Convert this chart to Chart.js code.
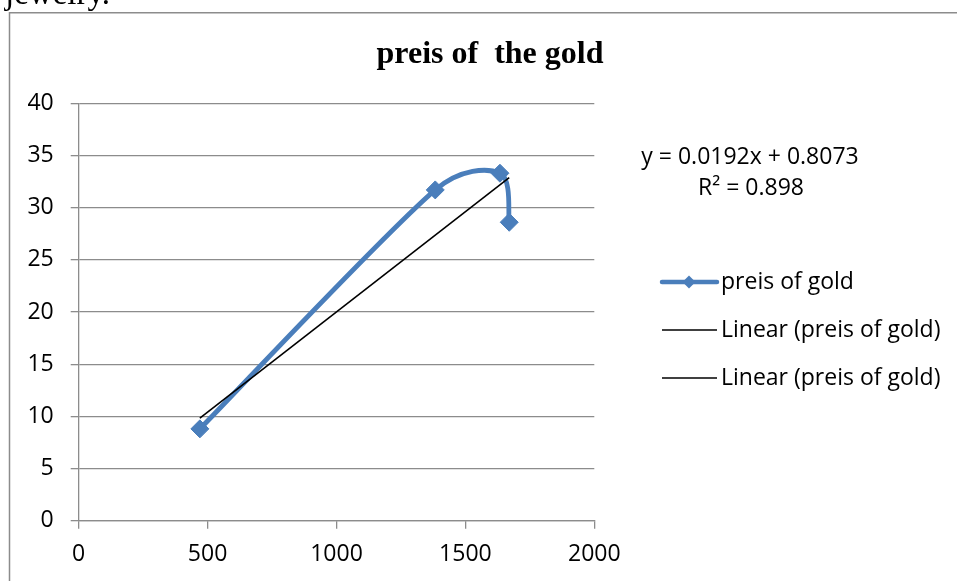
<!DOCTYPE html>
<html>
<head>
<meta charset="utf-8">
<script src="https://cdn.jsdelivr.net/npm/chart.js@4.4.1/dist/chart.umd.min.js"></script>
<style>
  html, body { margin: 0; padding: 0; background: #fff; }
  #wrap { position: relative; width: 957px; height: 581px; overflow: hidden; }
  canvas { display: block; }
</style>
</head>
<body>
<div id="wrap"><canvas id="c" width="957" height="581"></canvas></div>
<script>
// ---- data ----
const chartTitle = "preis of  the gold";
const seriesName = "preis of gold";
const trendNames = ["Linear (preis of gold)", "Linear (preis of gold)"];
const goldX = [470, 1383, 1634, 1670];
const goldY = [8.8, 31.7, 33.3, 28.6];
const trendSlope = 0.0192;
const trendIntercept = 0.8073;
const trendEquation = "y = 0.0192x + 0.8073";
const trendR2 = "R² = 0.898";
const xTicks = [0, 500, 1000, 1500, 2000];
const yTicks = [0, 5, 10, 15, 20, 25, 30, 35, 40];
const pageText = "jewelry.";

const goldPoints = goldX.map((x, i) => ({ x: x, y: goldY[i] }));
const xMin = Math.min(...goldX), xMax = Math.max(...goldX);
const trendPoints = [xMin, xMax].map(x => ({ x: x, y: trendSlope * x + trendIntercept }));

const BLUE = '#4a7ebb';
const GRID = '#8c8c8c';
const FONTFAM = "'Open Sans', sans-serif";
const TICKFONT = { family: FONTFAM, size: 23 };

// Office-style smoothing: Catmull-Rom control arms (1/6 of neighbour span),
// capped at half of the adjacent segment; applied to the library's own point elements.
const officeSmooth = {
  id: 'officeSmooth',
  beforeDatasetDraw(chart, args) {
    const meta = args.meta;
    if (meta.type !== 'scatter' || !meta.dataset || meta.index !== 1) return;
    meta.dataset.updateControlPoints(chart.chartArea, meta.iScale.axis);
    const p = meta.data;
    const n = p.length;
    const dist = (a, b) => Math.hypot(b.x - a.x, b.y - a.y);
    for (let i = 0; i < n; i++) {
      const prev = p[Math.max(i - 1, 0)], next = p[Math.min(i + 1, n - 1)], cur = p[i];
      let dx = (next.x - prev.x) / 6, dy = (next.y - prev.y) / 6;
      const arm = Math.hypot(dx, dy) || 1;
      const backLen = i > 0 ? Math.min(arm, dist(prev, cur) / 2) : 0;
      const fwdLen = i < n - 1 ? Math.min(arm, dist(cur, next) / 2) : 0;
      const ux = dx / arm, uy = dy / arm;
      cur.cp1x = cur.x - ux * backLen; cur.cp1y = cur.y - uy * backLen;
      cur.cp2x = cur.x + ux * fwdLen; cur.cp2y = cur.y + uy * fwdLen;
    }
  }
};

const extras = {
  id: 'extras',
  afterDraw(chart) {
    const ctx = chart.ctx;
    ctx.save();
    ctx.strokeStyle = GRID;
    ctx.lineWidth = 1.5;
    ctx.beginPath();
    ctx.moveTo(9.5, 581); ctx.lineTo(9.5, 12.7); ctx.lineTo(957, 12.7);
    ctx.stroke();
    ctx.fillStyle = '#000';
    ctx.font = "33px 'Liberation Serif', serif";
    ctx.textBaseline = 'alphabetic';
    ctx.textAlign = 'left';
    ctx.fillText(pageText, 5, 4);
    ctx.font = "bold 32px 'Liberation Serif', serif";
    ctx.textAlign = 'center';
    ctx.fillText(chartTitle, 490, 63);
    ctx.font = "23px " + FONTFAM;
    ctx.textBaseline = 'middle';
    ctx.fillText(trendEquation, 750, 157);
    ctx.fillText(trendR2, 751, 188);
    ctx.textAlign = 'left';
    const lx0 = 662, lx1 = 717, tx = 721;
    const rows = [282, 330, 378];
    ctx.strokeStyle = BLUE; ctx.lineWidth = 4.5; ctx.lineCap = 'round';
    ctx.beginPath(); ctx.moveTo(lx0, rows[0]); ctx.lineTo(lx1, rows[0]); ctx.stroke();
    ctx.fillStyle = BLUE;
    ctx.beginPath();
    const cx = (lx0 + lx1) / 2 - 0.5, r = 6.5;
    ctx.moveTo(cx - r, rows[0]); ctx.lineTo(cx, rows[0] - r); ctx.lineTo(cx + r, rows[0]); ctx.lineTo(cx, rows[0] + r); ctx.closePath();
    ctx.fill();
    ctx.fillStyle = '#000';
    ctx.fillText(seriesName, tx, rows[0]);
    ctx.strokeStyle = '#000'; ctx.lineWidth = 1.5; ctx.lineCap = 'butt';
    trendNames.forEach((n, i) => {
      const y = rows[i + 1];
      ctx.beginPath(); ctx.moveTo(lx0, y); ctx.lineTo(lx1, y); ctx.stroke();
      ctx.fillText(n, tx, y);
    });
    ctx.restore();
  }
};

new Chart(document.getElementById('c'), {
  type: 'scatter',
  data: {
    datasets: [
      {
        label: trendNames[0],
        data: trendPoints,
        showLine: true,
        borderColor: '#000',
        borderWidth: 1.6,
        pointRadius: 0,
        tension: 0,
        order: 0
      },
      {
        label: seriesName,
        data: goldPoints,
        showLine: true,
        borderColor: BLUE,
        backgroundColor: BLUE,
        borderWidth: 4.8,
        tension: 0.4,
        borderCapStyle: 'round',
        borderJoinStyle: 'round',
        pointStyle: 'rectRot',
        pointRadius: 9,
        pointBorderWidth: 1,
        pointBackgroundColor: BLUE,
        pointBorderColor: BLUE,
        order: 1
      }
    ]
  },
  options: {
    responsive: false,
    animation: false,
    layout: { padding: { left: 0, top: 103.3, right: 362.7, bottom: 0 } },
    plugins: { legend: { display: false }, title: { display: false }, tooltip: { enabled: false } },
    scales: {
      x: {
        type: 'linear',
        min: 0, max: 2000,
        afterBuildTicks: s => { s.ticks = xTicks.map(v => ({ value: v })); },
        afterFit: s => { s.height = 60.3; },
        grid: { drawOnChartArea: false, drawTicks: true, tickLength: 8, color: GRID, lineWidth: 1.3 },
        border: { color: GRID, width: 1.3 },
        ticks: { color: '#000', font: TICKFONT, padding: 12, maxRotation: 0, callback: v => String(v) }
      },
      y: {
        type: 'linear',
        min: 0, max: 40,
        afterBuildTicks: s => { s.ticks = yTicks.map(v => ({ value: v })); },
        afterFit: s => { s.width = 78.7; },
        grid: { drawTicks: true, tickLength: 8, color: GRID, lineWidth: 1.3 },
        border: { color: GRID, width: 1.3 },
        ticks: { color: '#000', font: TICKFONT, padding: 17, callback: v => String(v) }
      }
    }
  },
  plugins: [officeSmooth, extras]
});
</script>
</body>
</html>
